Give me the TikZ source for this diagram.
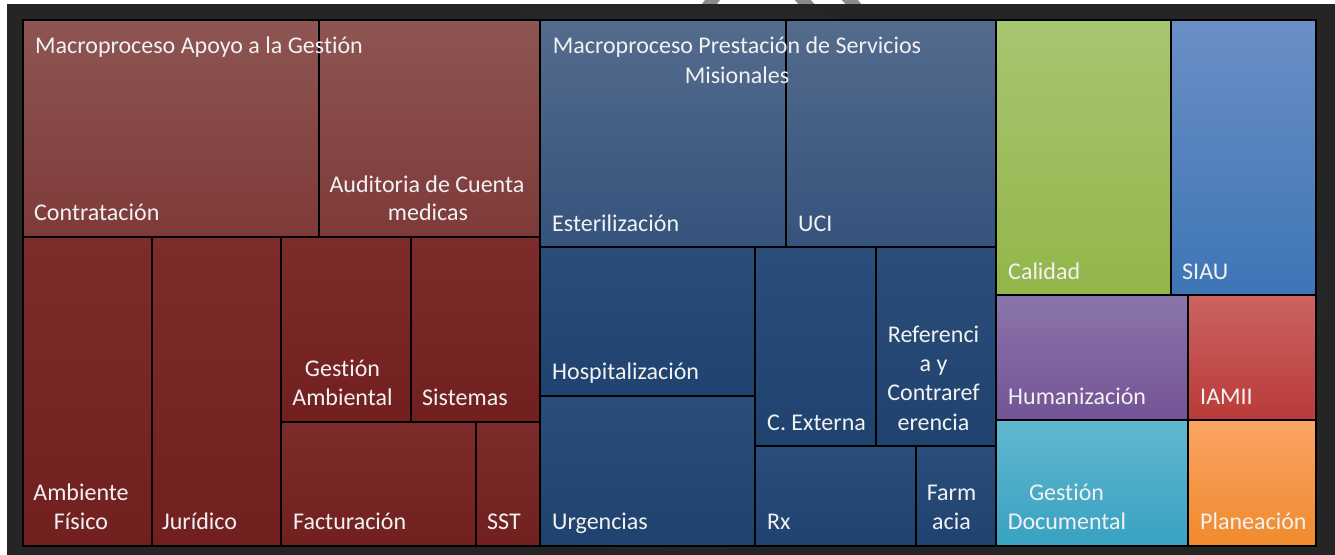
\documentclass[tikz,border=0pt]{standalone}
\usepackage{fontspec}
\setmainfont{Carlito}[Ligatures=NoCommon]
\definecolor{txt}{HTML}{F2F2F2}
\definecolor{bgin}{HTML}{474747}
\definecolor{bgout}{HTML}{252525}
\tikzset{
  cellbox/.style={draw=black, line width=2pt},
  redtop/.style={cellbox, top color={rgb,255:red,141;green,85;blue,83}, bottom color={rgb,255:red,126;green,58;blue,57}},
  redlow/.style={cellbox, top color={rgb,255:red,125;green,44;blue,43}, bottom color={rgb,255:red,113;green,32;blue,31}},
  bluetop/.style={cellbox, top color={rgb,255:red,84;green,107;blue,141}, bottom color={rgb,255:red,53;green,83;blue,124}},
  bluelow/.style={cellbox, top color={rgb,255:red,43;green,77;blue,121}, bottom color={rgb,255:red,31;green,66;blue,111}},
  lbl/.style={text=txt, font=\fontsize{24}{29}\selectfont, inner sep=0pt, anchor=base west},
  clbl/.style={text=txt, font=\fontsize{24}{29}\selectfont, inner sep=0pt, anchor=base},
}
\begin{document}
\begin{tikzpicture}[x=1pt,y=-1pt]
\useasboundingbox (0,0) rectangle (1335,554);
\fill[white] (0,0) rectangle (1335,554);
% grey strokes in the top margin
\begin{scope}
  \clip (0,0) rectangle (1335,5);
  \draw[line width=12pt, color={rgb,255:red,140;green,140;blue,140}] (690,30) -- (735,-30);
  \draw[line width=12pt, color={rgb,255:red,140;green,140;blue,140}] (785,-20) -- (825,25);
  \draw[line width=12pt, color={rgb,255:red,140;green,140;blue,140}] (832,-20) -- (872,25);
\end{scope}
\path[inner color=bgin, outer color=bgout] (7,4) rectangle (1335,554);
% red group
\draw[redtop] (23,20) rectangle (319,237);
\draw[redtop] (319,20) rectangle (540,237);
\draw[redlow] (23,237) rectangle (152,546);
\draw[redlow] (152,237) rectangle (281,546);
\draw[redlow] (281,237) rectangle (411,422);
\draw[redlow] (411,237) rectangle (540,422);
\draw[redlow] (281,422) rectangle (476,546);
\draw[redlow] (476,422) rectangle (540,546);
% blue group
\draw[bluetop] (540,20) rectangle (786,247);
\draw[bluetop] (786,20) rectangle (996,247);
\draw[bluelow] (540,247) rectangle (755,396);
\draw[bluelow] (540,396) rectangle (755,546);
\draw[bluelow] (755,247) rectangle (876,446);
\draw[bluelow] (876,247) rectangle (996,446);
\draw[bluelow] (755,446) rectangle (916,546);
\draw[bluelow] (916,446) rectangle (996,546);
% right group
\draw[cellbox, top color={rgb,255:red,168;green,197;blue,112}, bottom color={rgb,255:red,146;green,182;blue,74}] (996,20) rectangle (1171,295);
\draw[cellbox, top color={rgb,255:red,106;green,143;blue,198}, bottom color={rgb,255:red,62;green,117;blue,182}] (1171,20) rectangle (1316,295);
\draw[cellbox, top color={rgb,255:red,139;green,117;blue,171}, bottom color={rgb,255:red,115;green,83;blue,149}] (996,295) rectangle (1188,420);
\draw[cellbox, top color={rgb,255:red,203;green,100;blue,98}, bottom color={rgb,255:red,185;green,58;blue,56}] (1188,295) rectangle (1316,420);
\draw[cellbox, top color={rgb,255:red,98;green,183;blue,207}, bottom color={rgb,255:red,56;green,162;blue,194}] (996,420) rectangle (1188,546);
\draw[cellbox, top color={rgb,255:red,251;green,164;blue,100}, bottom color={rgb,255:red,240;green,138;blue,44}] (1188,420) rectangle (1316,546);
% labels
\node[lbl] (mapoyo) at (35,53) {Macroproceso Apoyo a la Gestión};
\node[lbl] (contr) at (34,220) {Contratación};
\node[clbl] (aud1) at (427,192) {Auditoria de Cuenta};
\node[clbl] (aud2) at (428,220) {medicas};
\node[clbl] (amb1) at (81,500) {Ambiente};
\node[clbl] (amb2) at (81,529) {Físico};
\node[lbl] (jur) at (162,529) {Jurídico};
\node[clbl] (gam1) at (342.5,376) {Gestión};
\node[clbl] (gam2) at (342.5,405) {Ambiental};
\node[lbl] (sis) at (422,405) {Sistemas};
\node[lbl] (fac) at (293,529) {Facturación};
\node[lbl] (sst) at (487,529) {SST};
\node[clbl] (mps1) at (737,53) {Macroproceso Prestación de Servicios};
\node[clbl] (mps2) at (737,83) {Misionales};
\node[lbl] (est) at (552,231) {Esterilización};
\node[lbl] (uci) at (798,231) {UCI};
\node[lbl] (hos) at (552,379) {Hospitalización};
\node[lbl] (urg) at (552,529) {Urgencias};
\node[lbl] (cex) at (767,430) {C. Externa};
\node[clbl] (ref1) at (933.5,342) {Referenci};
\node[clbl] (ref2) at (933.5,371) {a y};
\node[clbl] (ref3) at (933.5,400) {Contraref};
\node[clbl] (ref4) at (933.5,430) {erencia};
\node[lbl] (rx) at (767,529) {Rx};
\node[clbl] (far1) at (951.5,500) {Farm};
\node[clbl] (far2) at (951.5,529) {acia};
\node[lbl] (cal) at (1008,279) {Calidad};
\node[lbl] (siau) at (1182,279) {SIAU};
\node[lbl] (hum) at (1008,404) {Humanización};
\node[lbl] (iamii) at (1200,404) {IAMII};
\node[clbl] (gdo1) at (1066.5,500) {Gestión};
\node[clbl] (gdo2) at (1067,529) {Documental};
\node[lbl] (pla) at (1200,529) {Planeación};
\end{tikzpicture}
\end{document}
